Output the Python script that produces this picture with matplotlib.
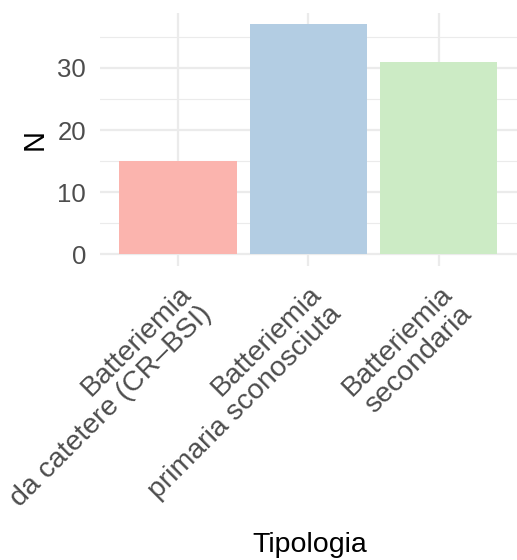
import numpy as np
import matplotlib
matplotlib.use("Agg")
import matplotlib.pyplot as plt
import matplotlib.transforms as mtransforms
from matplotlib.ticker import MultipleLocator

plt.rcParams['font.family'] = ['Liberation Sans', 'DejaVu Sans']

categorie = ["Batteriemia\nda catetere (CR\u2013BSI)",
             "Batteriemia\nprimaria sconosciuta",
             "Batteriemia\nsecondaria"]
conteggi = [15, 37, 31]
colori = ["#FBB4AE", "#B3CDE3", "#CCEBC5"]

fig = plt.figure(figsize=(5.17, 5.6), dpi=100)
ax = fig.add_axes([0.193, 0.525, 0.807, 0.452])

x = np.arange(1, len(categorie) + 1)
ax.bar(x, conteggi, width=0.9, color=colori, zorder=2)

# scale like ggplot: discrete x expanded by 0.6, y expanded 5%
ax.set_xlim(0.4, len(categorie) + 0.6)
ymax = max(conteggi)
ax.set_ylim(-0.05 * ymax, ymax * 1.05)

ax.yaxis.set_major_locator(MultipleLocator(10))
ax.yaxis.set_minor_locator(MultipleLocator(5))
ax.set_xticks(x)
ax.set_xticklabels(categorie, rotation=45, ha='right', va='top',
                   rotation_mode='anchor', multialignment='right',
                   linespacing=1.12)
# nudge the rotated labels a little to the left
shift = mtransforms.ScaledTranslation(-3 / 72, 0, fig.dpi_scale_trans)
for lab in ax.get_xticklabels():
    lab.set_transform(lab.get_transform() + shift)

ax.grid(which='major', color='#EBEBEB', linewidth=1.6, zorder=0)
ax.grid(which='minor', axis='y', color='#EBEBEB', linewidth=0.8, zorder=0)
ax.set_axisbelow(True)

for s in ax.spines.values():
    s.set_visible(False)
ax.tick_params(which='both', length=0)
ax.tick_params(axis='y', labelsize=18.5, labelcolor='#4D4D4D', pad=10)
ax.tick_params(axis='x', labelsize=20.5, labelcolor='#4D4D4D', pad=11)

ax.set_ylabel("N", fontsize=21, color='black', labelpad=6)
fig.text(310 / 517, 1 - 545 / 560, "Tipologia", fontsize=20.5,
         ha='center', va='center', color='black')

fig.savefig("out.png", dpi=100)
